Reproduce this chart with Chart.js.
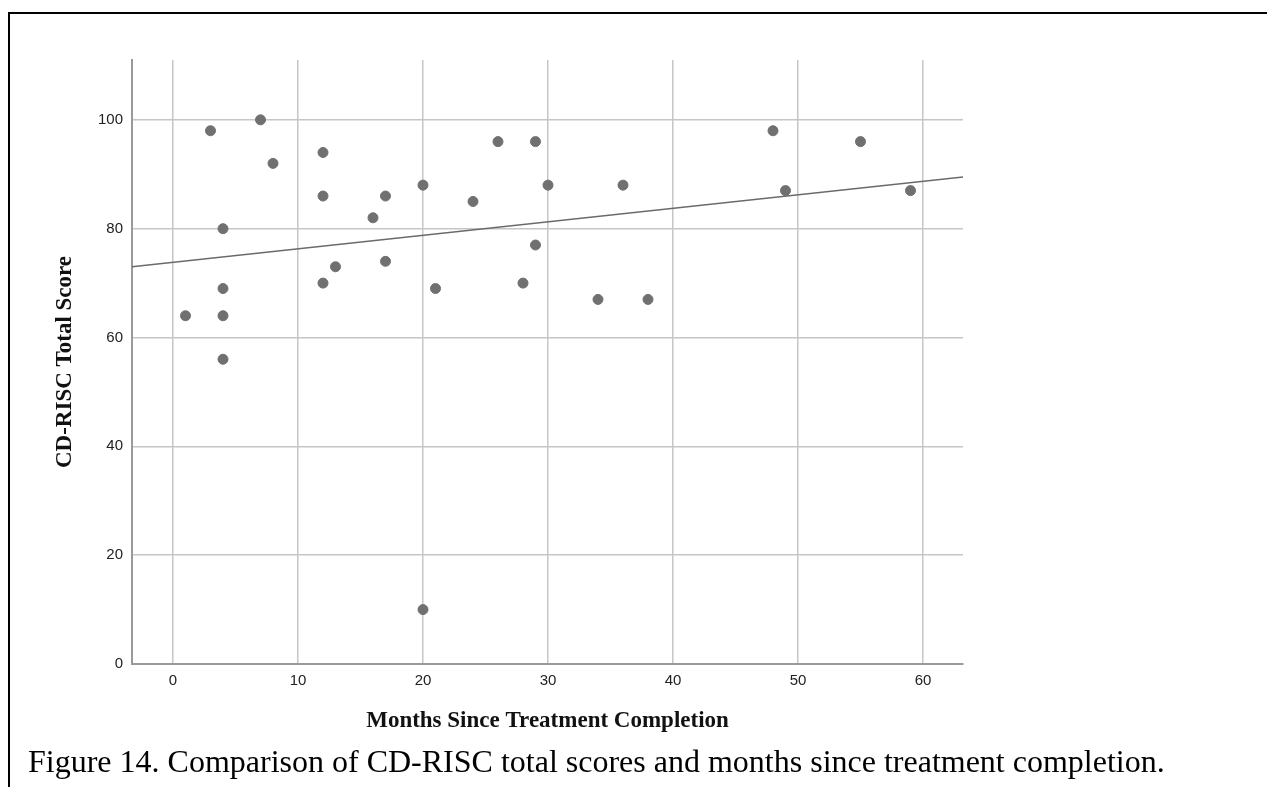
<!DOCTYPE html>
<html>
<head>
<meta charset="utf-8">
<script src="https://cdn.jsdelivr.net/npm/chart.js@4.4.1/dist/chart.umd.min.js"></script>
<style>
  html, body { margin: 0; padding: 0; background: #ffffff; width: 1267px; height: 787px; overflow: hidden; }
  #frame { position: absolute; left: 8px; top: 12px; right: -10px; bottom: -10px; border-top: 2px solid #000; border-left: 2px solid #000; }
  #wrap { position: absolute; left: 0; top: 0; width: 1267px; height: 787px; }
  #caption { position: absolute; left: 28px; top: 745px; font-family: "Liberation Serif", "Times New Roman", serif; font-size: 32px; line-height: 32px; color: #000; white-space: nowrap; }
</style>
</head>
<body>
<div id="frame"></div>
<div id="wrap"><canvas id="c" width="1267" height="787"></canvas></div>
<div id="caption">Figure 14. Comparison of CD-RISC total scores and months since treatment completion.</div>
<script>
// Data
const months = [1, 3, 4, 4, 4, 4, 7, 8, 12, 12, 12, 13, 16, 17, 17, 20, 20, 21, 24, 26, 28, 29, 29, 30, 34, 36, 38, 48, 49, 55, 59];
const scores = [64, 98, 80, 69, 64, 56, 100, 92, 94, 86, 70, 73, 82, 86, 74, 88, 10, 69, 85, 96, 70, 96, 77, 88, 67, 88, 67, 98, 87, 96, 87];
// Fit line endpoints as drawn in the reference (spanning the x-axis range)
const fitX = [-3.28, 63.2];
const fitY = [73.0, 89.5];
const xTicks = [0, 10, 20, 30, 40, 50, 60];
const yTicks = [0, 20, 40, 60, 80, 100];
const xTitle = "Months Since Treatment Completion";
const yTitle = "CD-RISC Total Score";

const points = months.map((m, i) => ({ x: m, y: scores[i] }));
const fitPoints = fitX.map((x, i) => ({ x: x, y: fitY[i] }));

const tickFont = { family: "'Liberation Sans', Arial, sans-serif", size: 15 };
const titleFont = { family: "'Liberation Serif', 'Times New Roman', serif", size: 23, weight: 'bold' };

new Chart(document.getElementById('c'), {
  type: 'scatter',
  data: {
    datasets: [
      {
        type: 'line',
        data: fitPoints,
        borderColor: '#6a6a6a',
        borderWidth: 1.3,
        pointRadius: 0,
        fill: false,
        order: 0
      },
      {
        data: points,
        backgroundColor: '#707070',
        borderColor: '#707070',
        borderWidth: 1,
        pointRadius: 5,
        order: 1
      }
    ]
  },
  options: {
    responsive: false,
    animation: false,
    events: [],
    layout: { padding: { left: 51, top: 60, right: 304, bottom: 52 } },
    plugins: { legend: { display: false }, tooltip: { enabled: false } },
    scales: {
      x: {
        type: 'linear',
        min: -3.28,
        max: 63.2,
        afterFit: (s) => { s.height = 71; },
        afterBuildTicks: (s) => { s.ticks = xTicks.map(v => ({ value: v })); },
        ticks: { font: tickFont, color: '#222', padding: 8, includeBounds: false },
        grid: { color: '#c6c6c6', lineWidth: 1.5, drawTicks: false },
        border: { color: '#9a9a9a', width: 2 },
        title: { display: true, text: xTitle, font: titleFont, color: '#111', padding: 0 }
      },
      y: {
        type: 'linear',
        min: 0,
        max: 111,
        afterFit: (s) => { s.width = 81; },
        afterBuildTicks: (s) => { s.ticks = yTicks.map(v => ({ value: v })); },
        ticks: { font: tickFont, color: '#222', padding: 9, includeBounds: false },
        grid: { color: '#c6c6c6', lineWidth: 1.5, drawTicks: false },
        border: { color: '#9a9a9a', width: 2 },
        title: { display: true, text: yTitle, font: titleFont, color: '#111', padding: 0 }
      }
    }
  }
});
</script>
</body>
</html>
